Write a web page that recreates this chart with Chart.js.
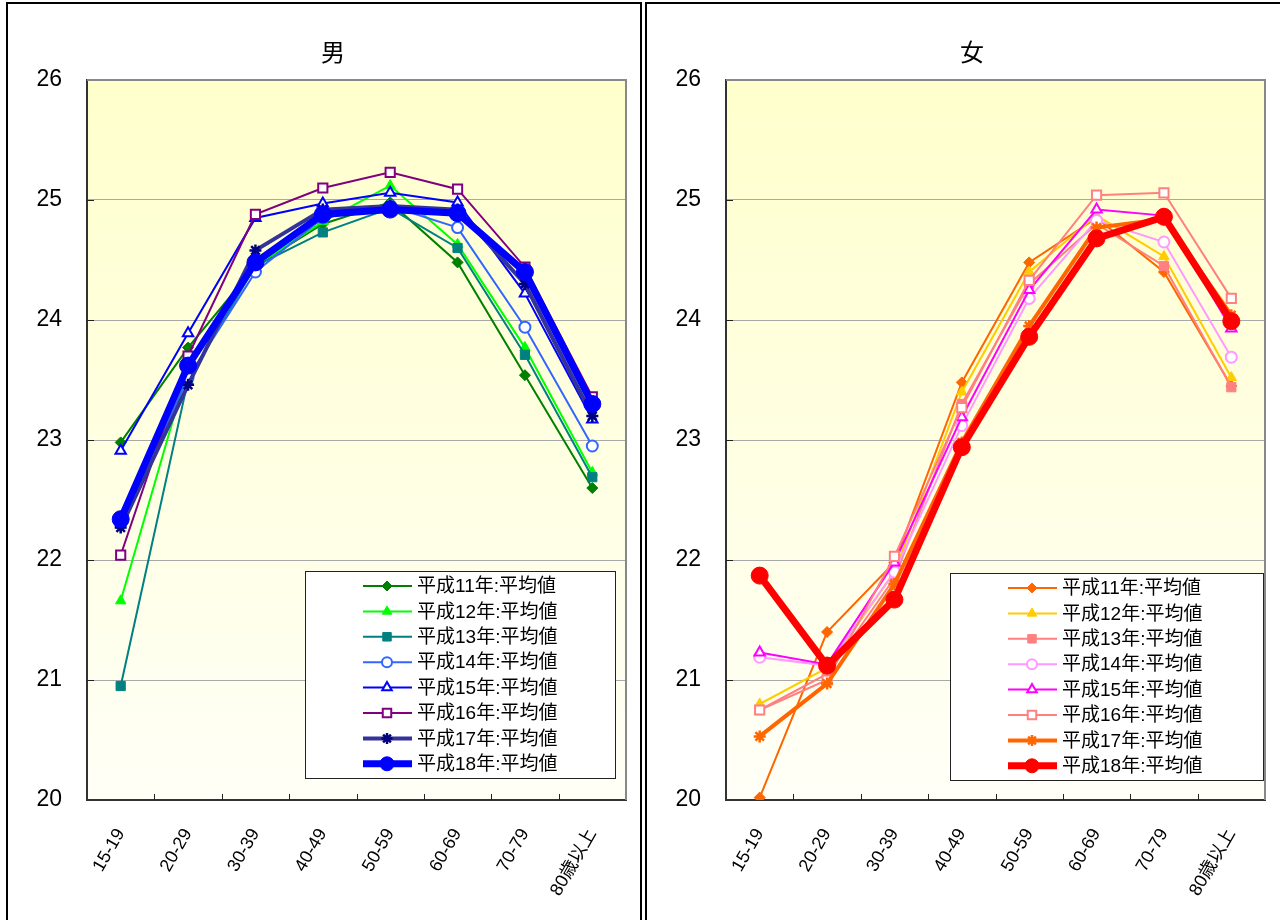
<!DOCTYPE html>
<html>
<head>
<meta charset="utf-8">
<script src="https://cdn.jsdelivr.net/npm/chart.js@4.4.0/dist/chart.umd.min.js"></script>
<style>
    body { margin: 0; width: 1280px; height: 920px; overflow: hidden; position: relative; background: #fff;
           font-family: "Liberation Sans", "Noto Sans CJK JP", sans-serif; }
    .panel { position: absolute; top: 2px; height: 940px; border: 2px solid #000; box-sizing: border-box; }
    .panel canvas { position: absolute; left: 0; top: 0; }
    .ttl { position: absolute; top: 36px; width: 100px; text-align: center; font-size: 24px; line-height: 30px; color: #000;
           font-family: "Noto Sans CJK JP", sans-serif; }
</style>
</head>
<body>
<div class="panel" style="left:6px;width:636px"><canvas id="male" width="632" height="916"></canvas></div>
<div class="panel" style="left:645px;width:640px"><canvas id="female" width="632" height="916"></canvas></div>
<div class="ttl" style="left:283px">男</div>
<div class="ttl" style="left:922px">女</div>
<script>
// chart data
const ageLabels = ['15-19', '20-29', '30-39', '40-49', '50-59', '60-69', '70-79', '80歳以上'];
const seriesNames = ['平成11年:平均値', '平成12年:平均値', '平成13年:平均値', '平成14年:平均値',
    '平成15年:平均値', '平成16年:平均値', '平成17年:平均値', '平成18年:平均値'];
const yMin = 20;
const yMax = 26;

const maleH11 = [22.98, 23.77, 24.45, 24.80, 24.98, 24.48, 23.54, 22.60];
const maleH12 = [21.66, 23.60, 24.45, 24.82, 25.12, 24.63, 23.77, 22.73];
const maleH13 = [20.95, 23.50, 24.45, 24.73, 24.93, 24.60, 23.71, 22.69];
const maleH14 = [22.30, 23.52, 24.40, 24.85, 24.95, 24.77, 23.94, 22.95];
const maleH15 = [22.91, 23.89, 24.85, 24.97, 25.06, 24.98, 24.22, 23.17];
const maleH16 = [22.04, 23.70, 24.88, 25.10, 25.23, 25.09, 24.44, 23.36];
const maleH17 = [22.27, 23.46, 24.58, 24.92, 24.95, 24.92, 24.30, 23.20];
const maleH18 = [22.34, 23.62, 24.48, 24.88, 24.92, 24.89, 24.40, 23.30];

const femaleH11 = [20.02, 21.40, 21.98, 23.48, 24.48, 24.85, 24.40, 23.45];
const femaleH12 = [20.80, 21.10, 21.90, 23.40, 24.40, 24.87, 24.53, 23.52];
const femaleH13 = [20.75, 21.05, 21.85, 23.30, 24.30, 24.80, 24.45, 23.44];
const femaleH14 = [21.19, 21.12, 21.90, 23.12, 24.18, 24.83, 24.65, 23.69];
const femaleH15 = [21.23, 21.13, 21.98, 23.19, 24.25, 24.92, 24.87, 23.93];
const femaleH16 = [20.75, 21.00, 22.03, 23.27, 24.33, 25.04, 25.06, 24.18];
const femaleH17 = [20.53, 20.97, 21.80, 22.98, 23.95, 24.77, 24.84, 24.04];
const femaleH18 = [21.87, 21.12, 21.67, 22.94, 23.86, 24.68, 24.86, 23.99];

// styles per series (same order as seriesNames)
const maleLine = ['#008000', '#00FF00', '#008080', '#3366FF', '#0000FF', '#800080', '#333399', '#0000FF'];
const maleMark = ['#008000', '#00FF00', '#008080', '#3366FF', '#0000FF', '#800080', '#000080', '#0000FF'];
const femaleLine = ['#FF6600', '#FFCC00', '#FF8080', '#FF99FF', '#FF00FF', '#FF8080', '#FF6600', '#FF0000'];
const femaleMark = ['#FF6600', '#FFCC00', '#FF8080', '#FF99FF', '#FF00FF', '#FF8080', '#FF6600', '#FF0000'];
const markStyle = ['rectRot', 'triangle', 'rect', 'circle', 'triangle', 'rect', 'star', 'circle'];
const markSize = [5.5, 6, 6.5, 5.5, 6, 6.5, 6, 8.5];
const markOpen = [false, false, false, true, true, true, false, false];
const lineWidth = [2, 2, 2, 2, 2, 2, 4, 7];

const makeSets = (values, lineColors, markColors) => values.map((v, i) => ({
    label: seriesNames[i],
    data: v,
    borderColor: lineColors[i],
    borderWidth: lineWidth[i],
    pointStyle: markStyle[i],
    pointRadius: markSize[i],
    pointHoverRadius: markSize[i],
    pointBackgroundColor: markOpen[i] ? '#FFFFFF' : markColors[i],
    pointBorderColor: markColors[i],
    pointBorderWidth: markOpen[i] ? 2 : (markStyle[i] === 'star' ? 2.5 : 1),
    tension: 0,
    order: values.length - 1 - i
}));

const plotDeco = {
    id: 'plotDeco',
    beforeDatasetsDraw(chart) {
        const { ctx, chartArea: a, scales } = chart;
        ctx.save();
        // top / right frame
        ctx.strokeStyle = '#888888';
        ctx.lineWidth = 2;
        ctx.beginPath();
        ctx.moveTo(a.left, a.top);
        ctx.lineTo(a.right, a.top);
        ctx.lineTo(a.right, a.bottom);
        ctx.stroke();
        // inner tick marks
        ctx.strokeStyle = '#222';
        ctx.lineWidth = 1;
        ctx.beginPath();
        const x = scales.x;
        for (let i = 0; i < ageLabels.length - 1; i++) {
            const px = Math.round((x.getPixelForValue(i) + x.getPixelForValue(i + 1)) / 2) + 0.5;
            ctx.moveTo(px, a.bottom);
            ctx.lineTo(px, a.bottom - 6);
        }
        const y = scales.y;
        for (let v = yMin + 1; v < yMax; v++) {
            const py = Math.round(y.getPixelForValue(v)) + 0.5;
            ctx.moveTo(a.left, py);
            ctx.lineTo(a.left + 7, py);
        }
        ctx.stroke();
        ctx.restore();
    }
};

const plotBg = {
    id: 'plotBg',
    beforeDraw(chart) {
        const { ctx, chartArea: a } = chart;
        const g = ctx.createLinearGradient(0, a.top, 0, a.bottom);
        g.addColorStop(0, '#FFFFCC');
        g.addColorStop(1, '#FFFFF7');
        ctx.save();
        ctx.fillStyle = g;
        ctx.fillRect(a.left, a.top, a.right - a.left, a.bottom - a.top);
        ctx.restore();
    }
};

const boxLegend = {
    id: 'boxLegend',
    afterDraw(chart, args, opts) {
        const { ctx, chartArea: a } = chart;
        const bx = a.left + opts.left;
        const by = a.top + opts.top;
        ctx.save();
        ctx.fillStyle = '#FFFFFF';
        ctx.fillRect(bx, by, opts.width, opts.height);
        ctx.strokeStyle = '#222';
        ctx.lineWidth = 1;
        ctx.strokeRect(bx + 0.5, by + 0.5, opts.width, opts.height);
        chart.data.datasets.forEach((ds, i) => {
            const cy = by + 15 + i * 25.4;
            ctx.strokeStyle = ds.borderColor;
            ctx.lineWidth = ds.borderWidth;
            ctx.lineCap = 'butt';
            ctx.beginPath();
            ctx.moveTo(bx + 58, cy);
            ctx.lineTo(bx + 107, cy);
            ctx.stroke();
            ctx.fillStyle = ds.pointBackgroundColor;
            ctx.strokeStyle = ds.pointBorderColor;
            ctx.lineWidth = ds.pointBorderWidth;
            Chart.helpers.drawPoint(ctx, {
                pointStyle: ds.pointStyle,
                radius: Math.min(ds.pointRadius, 7.5) - 0.5,
                rotation: 0,
                borderWidth: ds.pointBorderWidth
            }, bx + 82, cy);
            ctx.fillStyle = '#000';
            ctx.font = '19px "Liberation Sans", "Noto Sans CJK JP", sans-serif';
            ctx.textBaseline = 'middle';
            ctx.textAlign = 'left';
            ctx.fillText(ds.label, bx + 112, cy + 1);
        });
        ctx.restore();
    }
};

const makeChart = (id, values, lineColors, markColors, legendPos) => new Chart(document.getElementById(id), {
    type: 'line',
    data: { labels: ageLabels, datasets: makeSets(values, lineColors, markColors) },
    options: {
        responsive: false,
        animation: false,
        events: [],
        layout: { padding: { top: 76, right: 14, left: 0, bottom: 0 } },
        plugins: {
            legend: { display: false },
            title: { display: false },
            tooltip: { enabled: false },
            boxLegend: legendPos
        },
        scales: {
            x: {
                offset: true,
                grid: { display: true, drawOnChartArea: false, drawTicks: false },
                border: { color: '#333', width: 2 },
                ticks: {
                    color: '#000',
                    font: { family: '"Liberation Sans", "Noto Sans CJK JP", sans-serif', size: 18 },
                    minRotation: 60,
                    maxRotation: 60,
                    padding: 25
                },
                afterFit: (s) => { s.height = 120; }
            },
            y: {
                min: yMin,
                max: yMax,
                grid: { color: '#A8A8A8', lineWidth: 1, drawTicks: false },
                border: { color: '#333', width: 2 },
                ticks: {
                    stepSize: 1,
                    color: '#000',
                    padding: 25,
                    font: { family: '"Liberation Sans", sans-serif', size: 23 }
                },
                afterFit: (s) => { s.width = 79; }
            }
        }
    },
    plugins: [plotBg, plotDeco, boxLegend]
});

makeChart('male',
    [maleH11, maleH12, maleH13, maleH14, maleH15, maleH16, maleH17, maleH18],
    maleLine, maleMark,
    { left: 218, top: 491, width: 310, height: 207 });

makeChart('female',
    [femaleH11, femaleH12, femaleH13, femaleH14, femaleH15, femaleH16, femaleH17, femaleH18],
    femaleLine, femaleMark,
    { left: 224, top: 493, width: 313, height: 207 });
</script>
</body>
</html>
